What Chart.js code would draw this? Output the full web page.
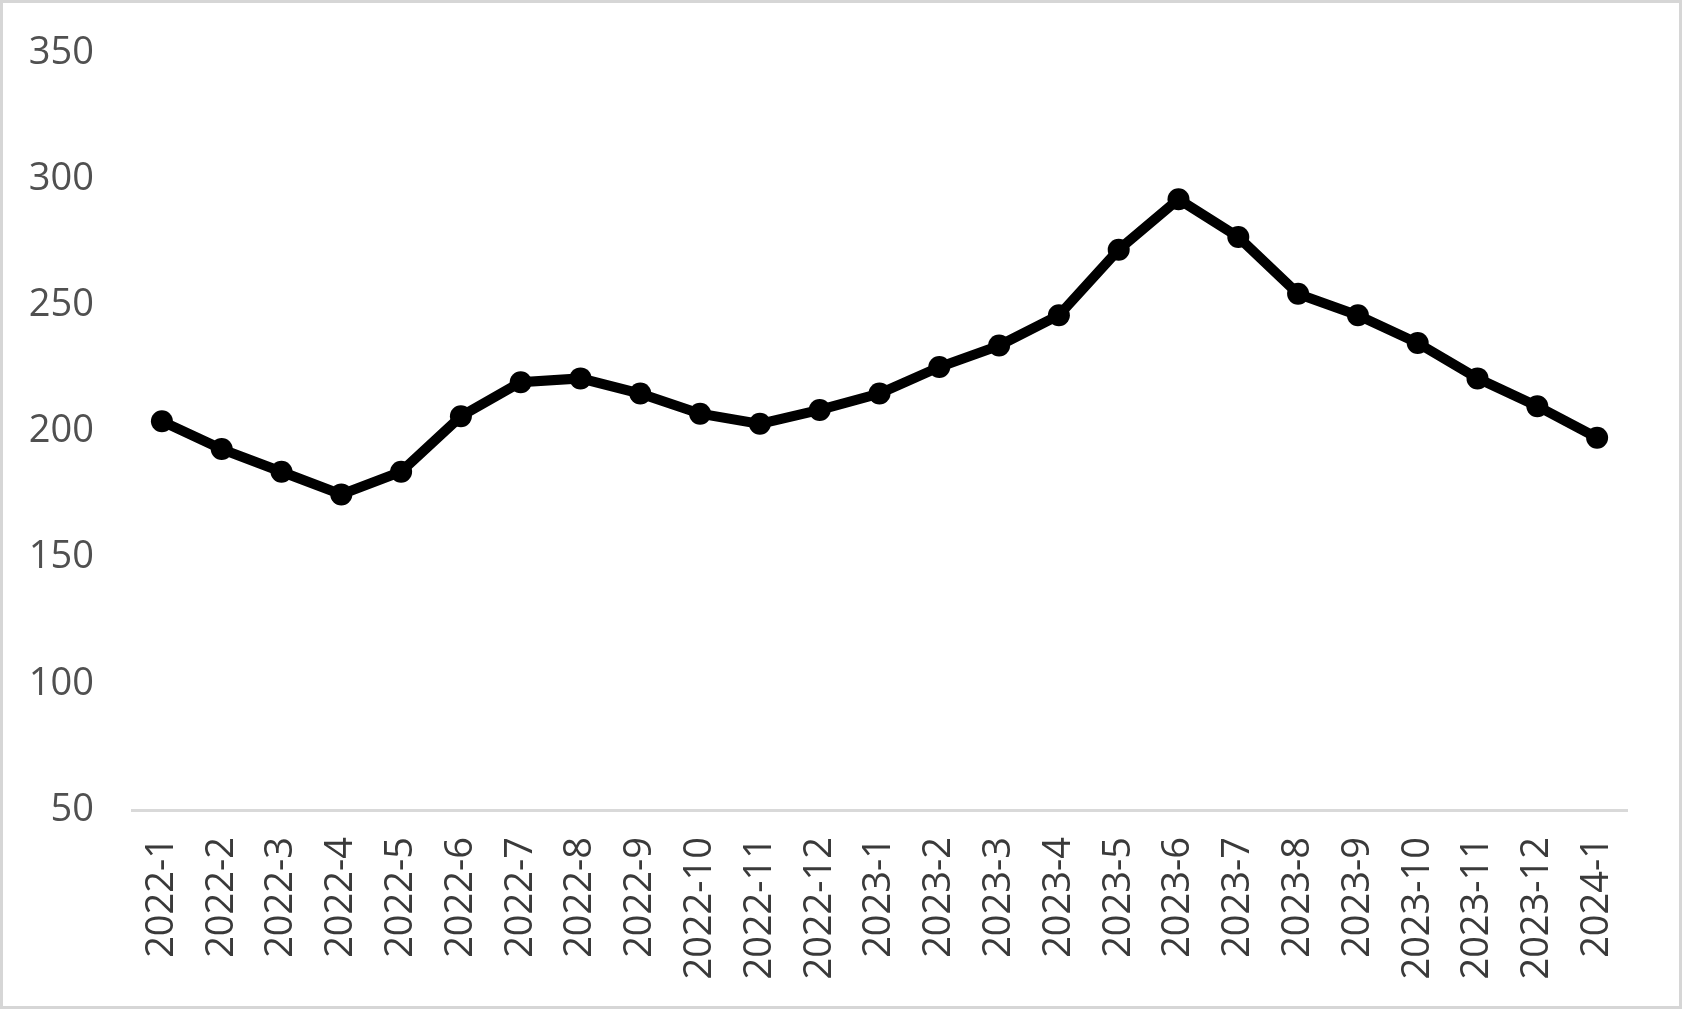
<!DOCTYPE html>
<html>
<head>
<meta charset="utf-8">
<script src="https://cdn.jsdelivr.net/npm/chart.js@4.4.1/dist/chart.umd.min.js"></script>
<style>
  html, body { margin: 0; padding: 0; background: #fff; }
  #wrap { position: relative; width: 1682px; height: 1009px; }
  #frame { position: absolute; left: 0; top: 0; width: 1682px; height: 1009px; box-sizing: border-box; border: 3px solid #d6d6d6; pointer-events: none; }
</style>
</head>
<body>
<div id="wrap">
  <canvas id="myChart"></canvas>
  <div id="frame"></div>
</div>
<script>
// months on the x axis
const months = ['2022-1', '2022-2', '2022-3', '2022-4', '2022-5', '2022-6', '2022-7', '2022-8', '2022-9', '2022-10', '2022-11', '2022-12',
  '2023-1', '2023-2', '2023-3', '2023-4', '2023-5', '2023-6', '2023-7', '2023-8', '2023-9', '2023-10', '2023-11', '2023-12', '2024-1'];

// values
const values = [204, 193, 184, 175, 184, 206, 219.5, 221, 215, 207, 203, 208.5,
  215, 225.5, 234, 246, 272, 292, 277, 254.5, 246, 235, 221, 210, 197.5];

const yMin = 50;
const yMax = 350;
const yStep = 50;

function makeChart() {
    const ctx = document.getElementById('myChart').getContext('2d');
    const chart = new Chart(ctx, {
        type: 'line',
        data: {
            labels: months,
            datasets: [{
                data: values,
                borderColor: '#000000',
                backgroundColor: '#000000',
                borderWidth: 10,
                pointRadius: 11,
                pointBackgroundColor: '#000000',
                pointBorderWidth: 0,
                tension: 0
            }]
        },
        options: {
            responsive: true,
            maintainAspectRatio: false,
            animation: false,
            layout: { padding: { top: 42, right: 55, bottom: 0, left: 0 } },
            plugins: {
                legend: { display: false },
                tooltip: { enabled: false }
            },
            scales: {
                x: {
                    offset: true,
                    grid: { display: false },
                    border: { display: true, color: '#d9d9d9', width: 3 },
                    ticks: {
                        minRotation: 90,
                        maxRotation: 90,
                        padding: 19,
                        color: '#3a3a3a',
                        font: { family: 'Open Sans', size: 38 }
                    },
                    afterFit: function (scale) { scale.height = 199; }
                },
                y: {
                    min: yMin,
                    max: yMax,
                    grid: { display: false },
                    border: { display: false },
                    ticks: {
                        stepSize: yStep,
                        padding: 30,
                        color: '#505050',
                        font: { family: 'Open Sans', size: 38 }
                    },
                    afterFit: function (scale) { scale.width = 132; }
                }
            }
        }
    });
    return chart;
}

makeChart();
</script>
</body>
</html>
